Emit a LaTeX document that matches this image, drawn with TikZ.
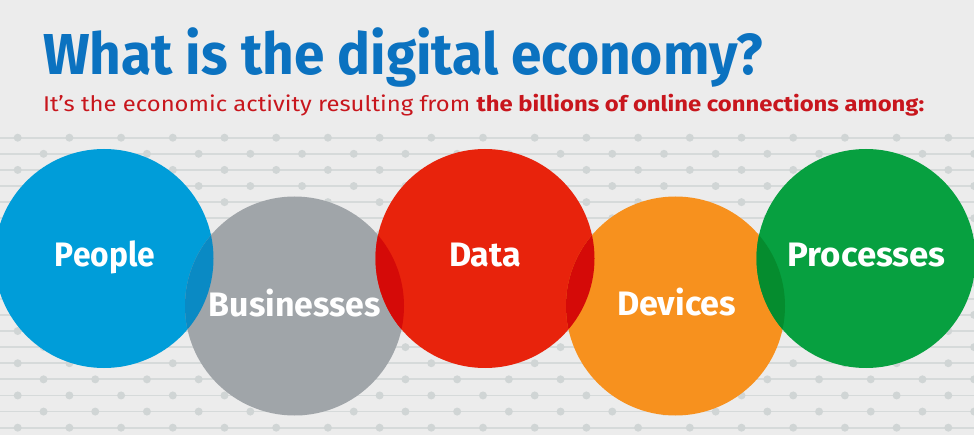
\documentclass[tikz,border=0pt]{standalone}
\usepackage{fontspec}
\setmainfont{Fira Sans}
\usepackage{graphicx}
\definecolor{bgc}{HTML}{ECECEC}
\definecolor{linec}{HTML}{D6DADA}
\definecolor{dotc}{HTML}{D0D5D5}
\definecolor{cblue}{HTML}{009DD9}
\definecolor{cblueD}{HTML}{0A8AC4}
\definecolor{cgray}{HTML}{A0A5A9}
\definecolor{cred}{HTML}{E8230C}
\definecolor{credD}{HTML}{D50A08}
\definecolor{corange}{HTML}{F7911E}
\definecolor{cgreen}{HTML}{07A040}
\definecolor{cgreenD}{HTML}{058C2E}
\definecolor{ctitle}{HTML}{0B72C0}
\definecolor{csub}{HTML}{C8161D}
\newcommand\fitbox[3]{\resizebox{#1}{#2}{\smash{#3}\rule{0pt}{\fontcharht\font`H}}}
\begin{document}
\begin{tikzpicture}[x=1pt,y=-1pt,
  circ/.style={circle,minimum size=219pt,inner sep=0pt},
  lbl/.style={inner sep=0pt,text=white,font=\bfseries}]
\fill[bgc] (0,0) rectangle (974,435);
\useasboundingbox (0,0) rectangle (974,435);
% background pattern
\foreach \k in {0,...,18}{
  \pgfmathsetmacro\yy{137.7+16.11*\k}
  \pgfmathsetmacro\off{mod(\k,2)*25.85}
  \draw[linec,line width=1.8pt] (0,\yy) -- (974,\yy);
  \foreach \j in {0,...,18}{
    \fill[dotc] ({17.7+51.7*\j+\off},\yy) circle (4pt);
  }
}
% circles
\node[circ,fill=cblue] (people) at (104,258.5) {};
\node[circ,fill=cgray] (business) at (294.5,306) {};
\node[circ,fill=cred] (data) at (485,258.5) {};
\node[circ,fill=corange] (devices) at (675.5,306) {};
\node[circ,fill=cgreen] (processes) at (866,258.5) {};
% overlaps
\begin{scope}
  \clip (people.center) circle (109.5pt);
  \fill[cblueD] (business.center) circle (109.5pt);
\end{scope}
\begin{scope}
  \clip (data.center) circle (109.5pt);
  \fill[credD] (business.center) circle (109.5pt);
\end{scope}
\begin{scope}
  \clip (data.center) circle (109.5pt);
  \fill[credD] (devices.center) circle (109.5pt);
\end{scope}
\begin{scope}
  \clip (processes.center) circle (109.5pt);
  \fill[cgreenD] (devices.center) circle (109.5pt);
\end{scope}
% labels
\node[lbl] (peopleT) at (105,255) {\fitbox{100pt}{23.5pt}{People}};
\node[lbl] (businessT) at (295,304.5) {\fitbox{172pt}{23.5pt}{Businesses}};
\node[lbl] (dataT) at (485,255) {\fitbox{72pt}{23.5pt}{Data}};
\node[lbl] (devicesT) at (676.5,304) {\fitbox{119pt}{23.5pt}{Devices}};
\node[lbl] (processesT) at (866.7,255) {\fitbox{158pt}{23.5pt}{Processes}};
% title
\node[anchor=base west,inner sep=0pt,text=ctitle,font=\bfseries] (title) at (43,75)
  {\fitbox{719pt}{40pt}{What is the digital economy?}};
\node[anchor=base west,inner sep=0pt,text=csub] (sub) at (43,111.7)
  {\fitbox{881pt}{14.7pt}{It’s the economic activity resulting from \textbf{the billions of online connections among:}}};
\end{tikzpicture}
\end{document}
